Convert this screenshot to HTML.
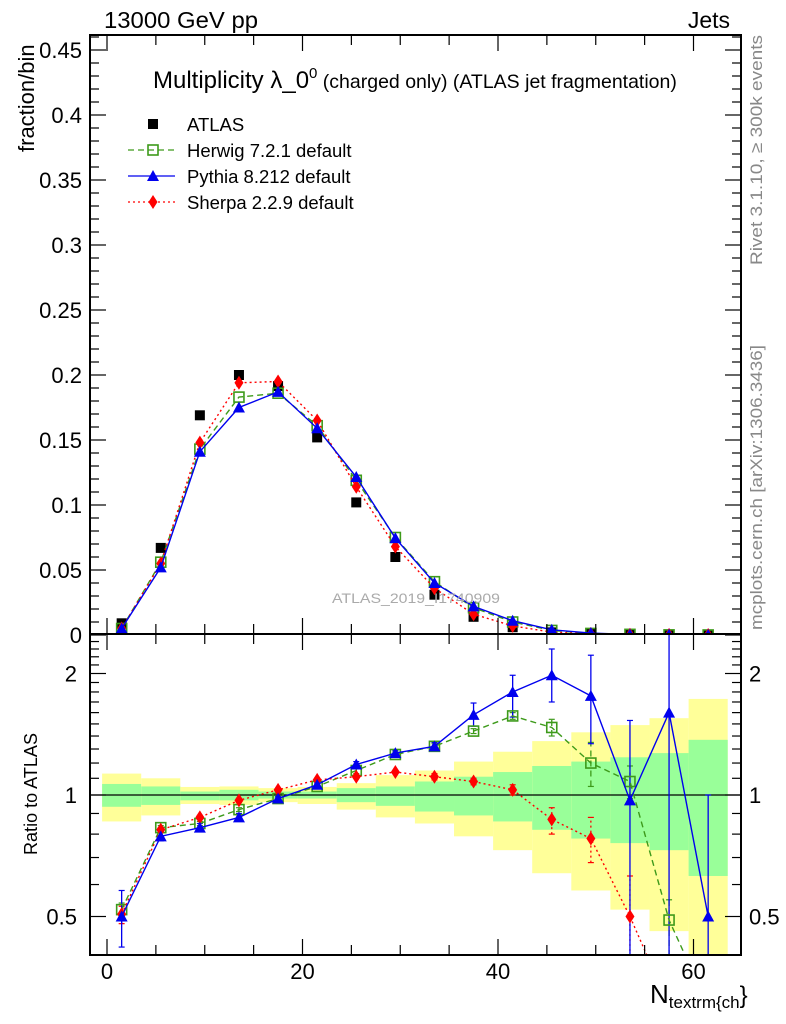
<!DOCTYPE html>
<html><head><meta charset="utf-8"><style>
html,body{margin:0;padding:0;background:#fff;width:786px;height:1024px;overflow:hidden;}
svg{display:block;font-family:"Liberation Sans",sans-serif;}
</style></head><body>
<svg id="chart" width="786" height="1024" viewBox="0 0 786 1024" xmlns="http://www.w3.org/2000/svg">
<defs>
<clipPath id="clipU"><rect x="90" y="35" width="651" height="599"/></clipPath>
<clipPath id="clipL"><rect x="90" y="634" width="651" height="321"/></clipPath>
</defs>
<g id="bands" clip-path="url(#clipL)"></g>
<g id="gridL"></g>
<g id="seriesU" clip-path="url(#clipU)"></g>
<g id="seriesL" clip-path="url(#clipL)"></g>
<g id="axes"></g>
<text x="104" y="28" font-size="23" textLength="154" lengthAdjust="spacingAndGlyphs">13000 GeV pp</text>
<text x="730" y="28" font-size="23" text-anchor="end">Jets</text>
<text x="153" y="88" font-size="24">Multiplicity λ_0<tspan dy="-10" font-size="15">0</tspan><tspan dy="10" font-size="19.5"> (charged only) (ATLAS jet fragmentation)</tspan></text>
<text transform="translate(34,152) rotate(-90)" font-size="22">fraction/bin</text>
<text transform="translate(37,855) rotate(-90)" font-size="18" textLength="122" lengthAdjust="spacingAndGlyphs">Ratio to ATLAS</text>
<text x="650" y="1003" font-size="26">N<tspan dy="5" font-size="17">textrm{ch</tspan><tspan dy="-5" font-size="24">}</tspan></text>
<text transform="translate(762,265) rotate(-90)" font-size="17" fill="#888" textLength="230" lengthAdjust="spacingAndGlyphs">Rivet 3.1.10, ≥ 300k events</text>
<text transform="translate(762,630) rotate(-90)" font-size="17" fill="#888" textLength="285" lengthAdjust="spacingAndGlyphs">mcplots.cern.ch [arXiv:1306.3436]</text>
<text x="332" y="603" font-size="14" fill="#aaa" textLength="168" lengthAdjust="spacingAndGlyphs">ATLAS_2019_I1740909</text>
<g id="legend"></g>
</svg>
<script>
const xCenters=[1.5,5.5,9.5,13.5,17.5,21.5,25.5,29.5,33.5,37.5,41.5,45.5,49.5,53.5,57.5,61.5];
const atlas=[0.009,0.067,0.169,0.2,0.1915,0.152,0.102,0.06,0.031,0.014,0.006,0.002,0.001,0.0004,0.0002,0.0001];
const herwig=[0.005,0.056,0.143,0.183,0.186,0.161,0.119,0.075,0.041,0.021,0.010,0.0035,0.0012,0.0005,0.0001,0.00003];
const pythia=[0.005,0.052,0.141,0.175,0.187,0.159,0.1215,0.0745,0.040,0.022,0.011,0.004,0.0015,0.0004,0.0003,0.00005];
const sherpa=[0.005,0.055,0.148,0.194,0.195,0.165,0.114,0.068,0.036,0.016,0.007,0.0022,0.0008,0.0002,0.00006,0.00002];
const herwigRatio=[0.52,0.83,0.85,0.92,0.98,1.05,1.15,1.26,1.32,1.44,1.57,1.47,1.20,1.08,0.49,0.30];
const pythiaRatio=[0.50,0.79,0.83,0.88,0.98,1.06,1.19,1.27,1.32,1.58,1.80,1.98,1.76,0.97,1.60,0.50];
const sherpaRatio=[0.507,0.82,0.88,0.97,1.03,1.09,1.11,1.14,1.11,1.08,1.03,0.87,0.78,0.50,0.30,0.20];
const pythiaErrLo=[0.42,0.77,0.82,0.87,0.97,1.05,1.17,1.25,1.29,1.48,1.56,1.70,1.34,0.3,0.3,0.3];
const pythiaErrHi=[0.58,0.81,0.85,0.90,0.99,1.07,1.21,1.29,1.35,1.69,1.98,2.30,2.22,1.53,2.6,1.0];
const herwigErrLo=[0.50,0.82,0.84,0.91,0.97,1.04,1.13,1.24,1.30,1.42,1.54,1.40,1.05,0.98,0.3,0.3];
const herwigErrHi=[0.54,0.84,0.86,0.93,0.99,1.06,1.17,1.28,1.34,1.46,1.60,1.54,1.35,1.18,0.55,0.3];
const sherpaErrLo=[0.48,0.81,0.87,0.96,1.02,1.08,1.10,1.13,1.09,1.06,1.00,0.80,0.68,0.3,0.3,0.2];
const sherpaErrHi=[0.53,0.83,0.89,0.98,1.04,1.10,1.12,1.15,1.13,1.10,1.06,0.93,0.88,0.63,0.3,0.2];
const binEdges=[-0.5,3.5,7.5,11.5,15.5,19.5,23.5,27.5,31.5,35.5,39.5,43.5,47.5,51.5,55.5,59.5,63.5];
const yellowHi=[1.13,1.10,1.047,1.05,1.04,1.047,1.07,1.12,1.15,1.21,1.28,1.36,1.43,1.49,1.55,1.73];
const yellowLo=[0.86,0.89,0.95,0.945,0.96,0.95,0.92,0.88,0.85,0.79,0.73,0.64,0.58,0.52,0.46,0.35];
const greenHi=[1.065,1.05,1.02,1.03,1.02,1.02,1.04,1.05,1.08,1.11,1.14,1.18,1.21,1.24,1.27,1.37];
const greenLo=[0.935,0.945,0.97,0.97,0.98,0.98,0.96,0.94,0.91,0.89,0.86,0.82,0.78,0.76,0.73,0.63];
const xTicks=[0,20,40,60];
const yTicksU=[0,0.05,0.1,0.15,0.2,0.25,0.3,0.35,0.4,0.45];
const yTickLabelsU=["0","0.05","0.1","0.15","0.2","0.25","0.3","0.35","0.4","0.45"];
const yTicksL=[0.5,1,2];

const NS="http://www.w3.org/2000/svg";
const L=90,R=741,TU=35,BU=634,BL=955;
function X(v){return 107+(v)*9.775;}
function YU(v){return 635-v*1300;}
function YL(r){return 795-121.5*Math.log2(r);}
function mk(tag,attrs,parent){const e=document.createElementNS(NS,tag);for(const k in attrs)e.setAttribute(k,attrs[k]);parent.appendChild(e);return e;}
const axes=document.getElementById('axes');
const bands=document.getElementById('bands');
for(let i=0;i<yellowHi.length;i++){
 const x0=X(binEdges[i]),x1=X(binEdges[i+1]);
 const y=mk('rect',{x:x0,y:YL(yellowHi[i]),width:x1-x0,height:YL(yellowLo[i])-YL(yellowHi[i]),fill:'#ffff99'},bands);
 
 
 const g=mk('rect',{x:x0,y:YL(greenHi[i]),width:x1-x0,height:YL(greenLo[i])-YL(greenHi[i]),fill:'#99ff99'},bands);
 
 
}
const ul=mk('line',{x1:L,x2:R,y1:YL(1),y2:YL(1),stroke:'#000','stroke-width':1.3},document.getElementById('gridL'));



function marker(type,x,y,color,parent){
 let e;
 if(type==='sq') e=mk('rect',{x:x-5,y:y-5,width:10,height:10,fill:'#000'},parent);
 else if(type==='osq') e=mk('rect',{x:x-5,y:y-5,width:10,height:10,fill:'none',stroke:color,'stroke-width':1.6},parent);
 else if(type==='tri') e=mk('polygon',{points:`${x},${y-6} ${x-6},${y+5} ${x+6},${y+5}`,fill:color},parent);
 else e=mk('polygon',{points:`${x},${y-7} ${x-4.5},${y} ${x},${y+7} ${x+4.5},${y}`,fill:color},parent);
 return e;
}
const styles={herwig:{c:'#3d9a1a',d:'6,4',m:'osq'},pythia:{c:'#0000ee',d:'',m:'tri'},sherpa:{c:'#ff0000',d:'2,3',m:'dia'}};
function series(vals,st,fy,parent,name){
 const pts=vals.map((v,i)=>`${X(xCenters[i])},${fy(v)}`).join(' ');
 const pl=mk('polyline',{points:pts,fill:'none',stroke:st.c,'stroke-width':1.4,'stroke-dasharray':st.d},parent);
 
 
 vals.forEach((v,i)=>{const m=marker(st.m,X(xCenters[i]),fy(v),st.c,parent);
  
  });
}
const sU=document.getElementById('seriesU');
atlas.forEach((v,i)=>{const m=marker('sq',X(xCenters[i]),YU(v),'#000',sU);
 
 });
series(herwig,styles.herwig,YU,sU,'herwig');
series(sherpa,styles.sherpa,YU,sU,'sherpa');
series(pythia,styles.pythia,YU,sU,'pythia');
const sL=document.getElementById('seriesL');
function errs(lo,hi,st,name){
 lo.forEach((v,i)=>{const x=X(xCenters[i]);
  const e=mk('line',{x1:x,x2:x,y1:YL(v),y2:YL(hi[i]),stroke:st.c,'stroke-width':1.3,'stroke-dasharray':st.d},sL);
  
  
  mk('line',{x1:x-3,x2:x+3,y1:YL(v),y2:YL(v),stroke:st.c,'stroke-width':1.2},sL);
  mk('line',{x1:x-3,x2:x+3,y1:YL(hi[i]),y2:YL(hi[i]),stroke:st.c,'stroke-width':1.2},sL);
 });
}
errs(herwigErrLo,herwigErrHi,styles.herwig,'herwig');
errs(sherpaErrLo,sherpaErrHi,styles.sherpa,'sherpa');
errs(pythiaErrLo,pythiaErrHi,styles.pythia,'pythia');
series(herwigRatio,styles.herwig,YL,sL,'herwig-ratio');
series(sherpaRatio,styles.sherpa,YL,sL,'sherpa-ratio');
series(pythiaRatio,styles.pythia,YL,sL,'pythia-ratio');

[[TU,BU],[BU,BL]].forEach(([t,b])=>{const f=mk('rect',{x:L,y:t,width:R-L,height:b-t,fill:'none',stroke:'#000','stroke-width':2},axes);
 
 });
for(let v=0;v<=64;v+=5){const major=v%20===0;const len=major?16:10;const x=X(v);
 [[TU,1],[BU,-1],[BU,1],[BL,-1]].forEach(([y,d])=>mk('line',{x1:x,x2:x,y1:y,y2:y+d*len,stroke:'#000','stroke-width':1.2},axes));}
xTicks.forEach(v=>{const t=mk('text',{x:X(v),y:979,'font-size':22,'text-anchor':'middle'},axes);t.textContent=v;
 
 });
for(let k=0;k<=46;k++){const v=k*0.01;const y=YU(v);if(y<TU)continue;const major=k%5===0;const len=major?16:9;
 mk('line',{x1:L,x2:L+len,y1:y,y2:y,stroke:'#000','stroke-width':1.2},axes);
 mk('line',{x1:R,x2:R-len,y1:y,y2:y,stroke:'#000','stroke-width':1.2},axes);}
yTicksU.forEach((v,i)=>{const t=mk('text',{x:82,y:YU(v)+8,'font-size':22,'text-anchor':'end'},axes);t.textContent=yTickLabelsU[i];
 
 });
const minors=[0.4,0.5,0.6,0.7,0.8,0.9,1,1.1,1.2,1.3,1.4,1.5,1.6,1.7,1.8,1.9,2,2.1,2.2,2.3,2.4];
minors.forEach(v=>{const y=YL(v);if(y<BU||y>BL)return;const major=yTicksL.includes(v);const len=major?16:9;
 mk('line',{x1:L,x2:L+len,y1:y,y2:y,stroke:'#000','stroke-width':1.2},axes);
 mk('line',{x1:R,x2:R-len,y1:y,y2:y,stroke:'#000','stroke-width':1.2},axes);});
yTicksL.forEach(v=>{
 const t=mk('text',{x:77,y:YL(v)+8,'font-size':22,'text-anchor':'end'},axes);t.textContent=v;
 
 
 const t2=mk('text',{x:749,y:YL(v)+8,'font-size':22},axes);t2.textContent=v;
 
 });
const lg=document.getElementById('legend');
const legNames=['ATLAS','Herwig 7.2.1 default','Pythia 8.212 default','Sherpa 2.2.9 default'];
const legStyles=[null,styles.herwig,styles.pythia,styles.sherpa];
legNames.forEach((n,i)=>{const y=124+i*26;
 const g=mk('g',{},lg);
 
 
 if(i===0){marker('sq',153,y,'#000',g);}
 else{const st=legStyles[i];mk('line',{x1:128,x2:175,y1:y,y2:y,stroke:st.c,'stroke-width':1.3,'stroke-dasharray':st.d},g);marker(st.m,153,y,st.c,g);}
 const t=mk('text',{x:187,y:y+7,'font-size':18.5},g);t.textContent=n;});
</script>
</body></html>
